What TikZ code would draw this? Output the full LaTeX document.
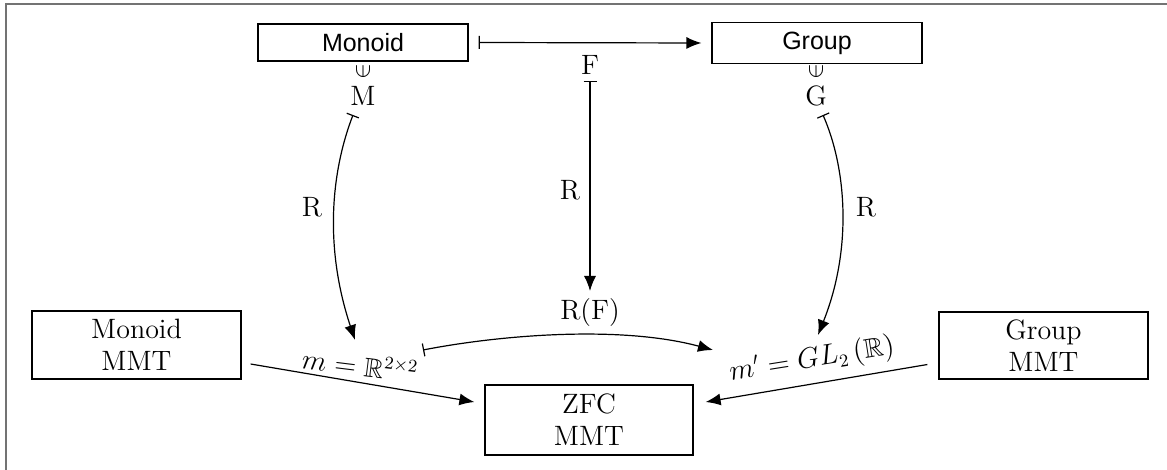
\documentclass[tikz,border=0pt]{standalone}
\usepackage{amssymb}
\usepackage{graphicx}
\usepackage{fontspec}
\newfontfamily\arialfont{Liberation Sans}
\usetikzlibrary{arrows.meta}
\begin{document}
\begin{tikzpicture}[x=0.5pt,y=-0.5pt,
  font=\fontsize{14}{16}\selectfont,
  box/.style={draw, line width=0.6pt, inner sep=0pt, align=center},
  sansbox/.style={box, font=\arialfont\fontsize{12.5}{16}\selectfont},
  lbl/.style={inner sep=0pt},
  elem/.style={inner sep=0pt, font=\fontsize{12}{12}\selectfont},
  conn/.style={line width=0.6pt},
  tip/.style={conn,-{Latex[length=7.5pt,width=6pt]}},
  mapsto/.style={conn,{Bar[width=6.5pt]}-{Latex[length=7.5pt,width=6pt]}}]
\useasboundingbox (0,0) rectangle (1167,470);
\draw[black!55, line width=1pt] (6,470) -- (6,4) -- (1167,4);

% boxes
\node[sansbox, minimum width=105pt, minimum height=18.5pt] (monoid) at (363,42.5) {Monoid};
\node[sansbox, minimum width=105pt, minimum height=20.5pt] (group) at (817,43) {Group};
\node[box, minimum width=104.5pt, minimum height=34pt] (monoidmmt) at (136.5,345) {Monoid\\MMT};
\node[box, minimum width=104.5pt, minimum height=33.5pt] (groupmmt) at (1043.5,345.5) {Group\\MMT};
\node[box, minimum width=104pt, minimum height=35pt] (zfc) at (589,420) {ZFC\\MMT};

% text labels
\node[elem] (inM) at (363,72) {\rotatebox{90}{$\in$}};
\node[lbl] (M) at (363,96) {M};
\node[elem] (inG) at (816,72) {\rotatebox{90}{$\in$}};
\node[lbl] (G) at (816,96) {G};
\node[lbl] (F) at (590,64.5) {F};
\node[lbl] (R1) at (312,207) {R};
\node[lbl] (R2) at (570,190) {R};
\node[lbl] (R3) at (866,207) {R};
\node[lbl] (RF) at (590,313) {R(F)};
\node[lbl, rotate=-7, font=\fontsize{13.5}{16}\selectfont] (m) at (360,365) {$m = \mathbb{R}^{2\times 2}$};
\node[lbl, rotate=9, font=\fontsize{13.5}{16}\selectfont] (mp) at (812,360) {$m' = GL_2\left(\mathbb{R}\right)$};

% connectors
\draw[mapsto] ([shift={(10,0)}]monoid.east) -- ([shift={(-10,0)}]group.west);
\draw[mapsto] ([shift={(0,16.5)}]F.center) -- ([shift={(0,-22)}]RF.center);
\draw[mapsto] ([shift={(-10,19)}]M.center) .. controls +(-23,60) and +(-30,-90) .. ([shift={(-5,-25)}]m.center);
\draw[mapsto] ([shift={(7,19)}]G.center) .. controls +(24,55) and +(34,-85) .. ([shift={(6,-25)}]mp.center);
\draw[mapsto] ([shift={(63,-15)}]m.center) .. controls +(77,-15) and +(-93,-25) .. ([shift={(-99,-10)}]mp.center);
\draw[tip] ([shift={(9,19)}]monoidmmt.east) -- ([shift={(-10,-18)}]zfc.west);
\draw[tip] ([shift={(-11,19)}]groupmmt.west) -- ([shift={(12,-18)}]zfc.east);
\end{tikzpicture}
\end{document}
